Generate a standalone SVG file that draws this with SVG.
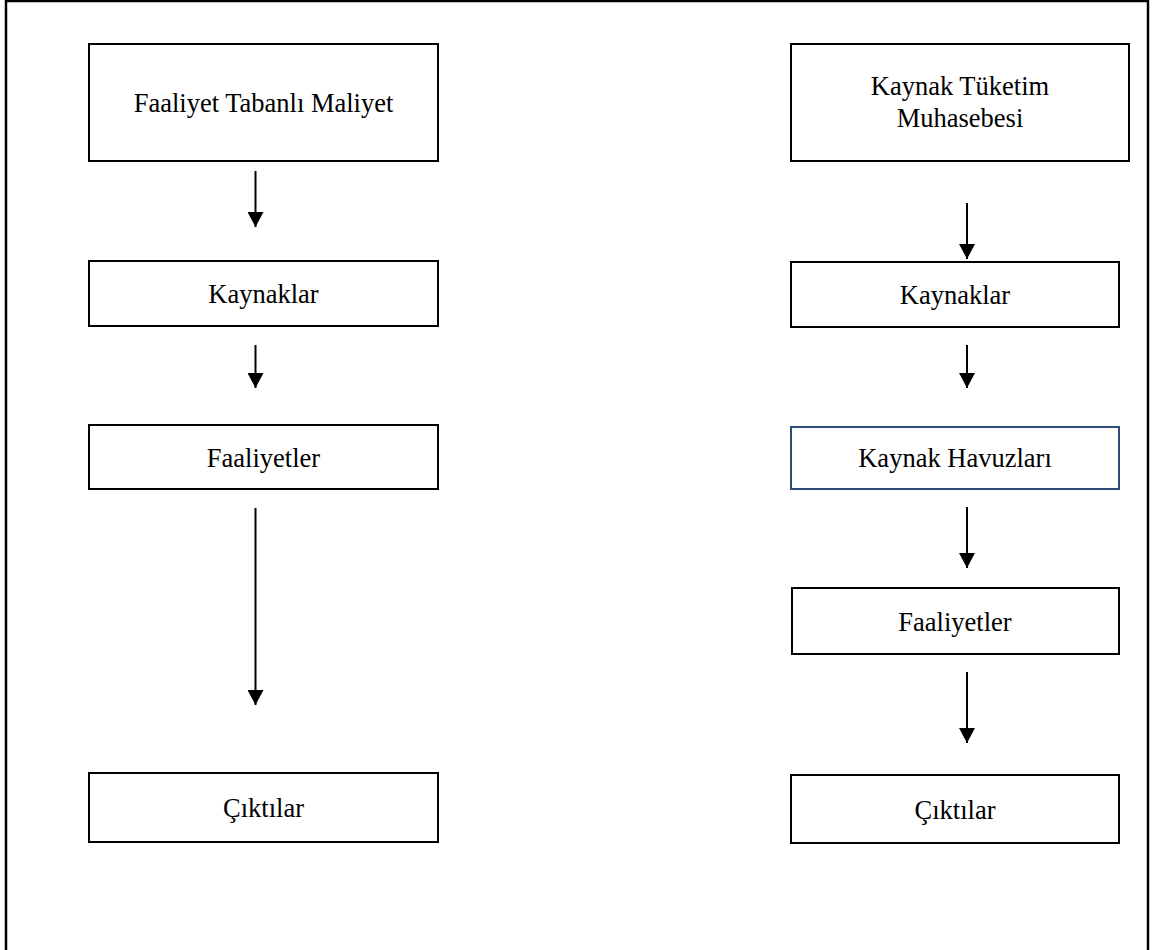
<svg xmlns="http://www.w3.org/2000/svg" width="1155" height="950" viewBox="0 0 1155 950">
<defs>
<style>
.box{fill:#fff;stroke:#000;stroke-width:2}
.blue{fill:#fff;stroke:#2F4B78;stroke-width:2}
.lbl{font-family:"Liberation Serif","Times New Roman",serif;font-size:26.5px;fill:#000;text-anchor:middle}
.edge{stroke:#000;stroke-width:2;fill:none;marker-end:url(#ah)}
</style>
<marker id="ah" markerUnits="userSpaceOnUse" markerWidth="16" markerHeight="16" refX="15" refY="8" orient="auto" viewBox="0 0 16 16">
<path d="M0,0 L15,8 L0,16 Z" fill="#000"/>
</marker>
</defs>
<rect width="1155" height="950" fill="#fff"/>
<path d="M6,955 L6,1 L1148,1 L1148,955" fill="none" stroke="#000" stroke-width="2.5"/>
<g id="left-faaliyet-tabanli">
<rect class="box" x="89" y="44" width="349" height="117"/>
<text class="lbl" x="263.5" y="112">Faaliyet Tabanlı Maliyet</text>
</g>
<g id="left-kaynaklar">
<rect class="box" x="89" y="261" width="349" height="65"/>
<text class="lbl" x="263.5" y="303">Kaynaklar</text>
</g>
<g id="left-faaliyetler">
<rect class="box" x="89" y="425" width="349" height="64"/>
<text class="lbl" x="263.5" y="467">Faaliyetler</text>
</g>
<g id="left-ciktilar">
<rect class="box" x="89" y="773" width="349" height="69"/>
<text class="lbl" x="263.5" y="817">Çıktılar</text>
</g>
<g id="right-ktm">
<rect class="box" x="791" y="44" width="338" height="117"/>
<text class="lbl" x="960" y="95">Kaynak Tüketim</text>
<text class="lbl" x="960" y="127">Muhasebesi</text>
</g>
<g id="right-kaynaklar">
<rect class="box" x="791" y="262" width="328" height="65"/>
<text class="lbl" x="955" y="304">Kaynaklar</text>
</g>
<g id="right-havuzlar">
<rect class="blue" x="791" y="427" width="328" height="62"/>
<text class="lbl" x="955" y="467">Kaynak Havuzları</text>
</g>
<g id="right-faaliyetler">
<rect class="box" x="792" y="588" width="327" height="66"/>
<text class="lbl" x="955" y="631">Faaliyetler</text>
</g>
<g id="right-ciktilar">
<rect class="box" x="791" y="775" width="328" height="68"/>
<text class="lbl" x="955" y="819">Çıktılar</text>
</g>
<g id="connectors">
<path class="edge" d="M255.5,171 L255.5,227"/>
<path class="edge" d="M255.5,345 L255.5,388"/>
<path class="edge" d="M255.5,508 L255.5,705"/>
<path class="edge" d="M967,203 L967,259"/>
<path class="edge" d="M967,345 L967,388"/>
<path class="edge" d="M967,507 L967,568"/>
<path class="edge" d="M967,672 L967,743"/>
</g>
</svg>
